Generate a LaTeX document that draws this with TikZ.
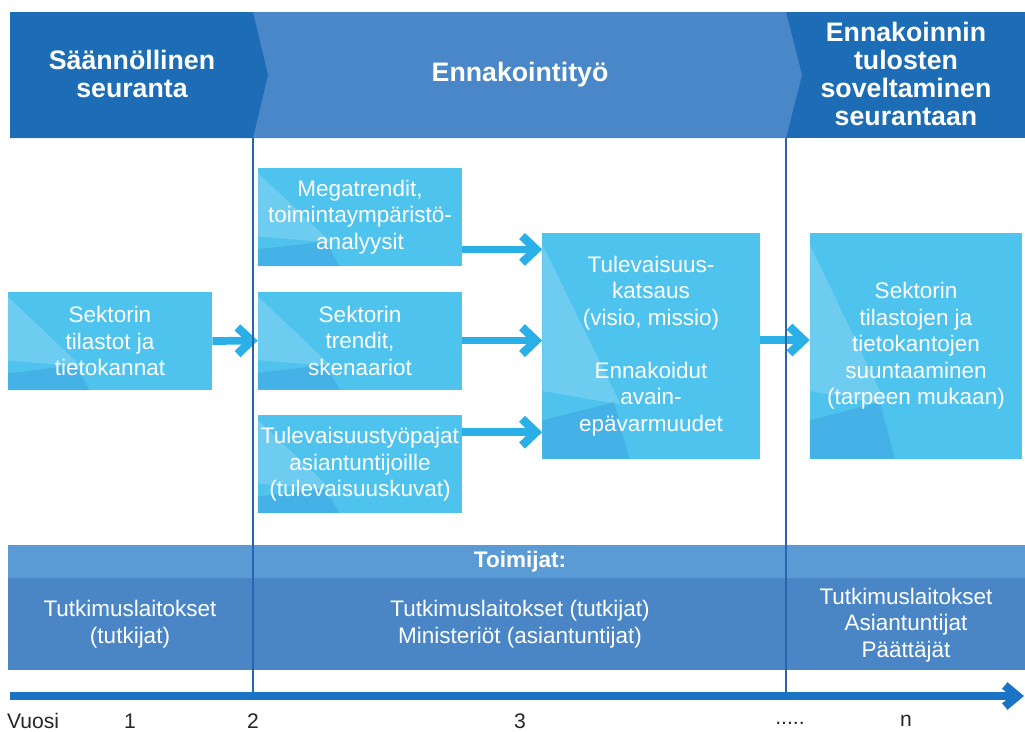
\documentclass[tikz,border=0pt]{standalone}
\usepackage{fontspec}
\setmainfont{Liberation Sans}
\usetikzlibrary{positioning, arrows.meta, calc}
\definecolor{headdark}{HTML}{1C6DB6}
\definecolor{headmid}{HTML}{4A87C8}
\definecolor{boxblue}{HTML}{4EC3EE}
\definecolor{facetlight}{HTML}{6ECCF1}
\definecolor{facetdark}{HTML}{44B2E6}
\definecolor{flowblue}{HTML}{2AB0E6}
\definecolor{bandtop}{HTML}{5B9BD5}
\definecolor{bandblue}{HTML}{4A86C6}
\definecolor{lineblue}{HTML}{2A63AE}
\definecolor{axisblue}{HTML}{1B74C3}
\tikzset{
headtext/.style={text=white, align=center, font=\fontsize{19}{20}\selectfont\bfseries}, % titles in the top band
boxtext/.style={text=white, align=center, font=\fontsize{16}{18.8}\selectfont}, % white body text
facets/.style={path picture={ % lighter and darker wedges at the left side of a box
    \path (path picture bounding box.south west) coordinate (fsw)
          (path picture bounding box.north east) coordinate (fne);
    \fill[facetlight] let \p1=(fsw), \p2=(fne) in
        (\x1,{\y2-0.05*(\y2-\y1)}) -- ({\x1+0.36*(\x2-\x1)},{\y2-0.76*(\y2-\y1)}) -- (\x1,{\y2-0.70*(\y2-\y1)}) -- cycle;
    \fill[facetdark] let \p1=(fsw), \p2=(fne) in
        (\x1,{\y1+0.17*(\y2-\y1)}) -- ({\x1+0.33*(\x2-\x1)},{\y1+0.25*(\y2-\y1)}) -- ({\x1+0.4*(\x2-\x1)},\y1) -- (\x1,\y1) -- cycle;
}},
infobox/.style={boxtext, fill=boxblue, facets, inner sep=1pt, minimum width=5.1cm, minimum height=2.45cm},
flow/.style={draw=flowblue, line width=5.5pt, -{Straight Barb[length=10pt,width=19pt,line width=6pt]}}, % thick chevron arrows
divider/.style={draw=lineblue, line width=1.3pt},
yeartext/.style={text=black!85, font=\fontsize{15}{17}\selectfont},
}
\begin{document}
\begin{tikzpicture}[x=0.025cm, y=-0.025cm]
\useasboundingbox (0,0) rectangle (1025,731);
% top band
\fill[headdark] (786,12) rectangle (1025,138);
\fill[headmid] (253,12) -- (786,12) -- (802,75) -- (786,138) -- (253,138) -- cycle;
\fill[headdark] (10,12) -- (253,12) -- (268,75) -- (253,138) -- (10,138) -- cycle;
\node[headtext] (hSeuranta) at (132,74) {Säännöllinen\\seuranta};
\node[headtext] (hTyo) at (520,75) {Ennakointityö};
\node[headtext] (hSoveltaminen) at (906,74) {Ennakoinnin\\tulosten\\soveltaminen\\seurantaan};

% boxes
\node[infobox] (stats) at (110,341) {Sektorin\\tilastot ja\\tietokannat};
\node[infobox] (mega) at (360,217) {Megatrendit,\\toimintaympäristö-\\analyysit};
\node[infobox, below=0.625cm of mega] (trend) {Sektorin\\trendit,\\skenaariot};
\node[infobox, below=0.625cm of trend] (work) {Tulevaisuustyöpajat\\asiantuntijoille\\(tulevaisuuskuvat)};
\node[infobox, minimum width=5.425cm, minimum height=5.625cm] (view) at (651,346)
    {Tulevaisuus-\\katsaus\\(visio, missio)\\[18.8pt]Ennakoidut\\avain-\\epävarmuudet};
\node[infobox, minimum width=5.3cm, minimum height=5.625cm] (apply) at (916,346)
    {Sektorin\\tilastojen ja\\tietokantojen\\suuntaaminen\\(tarpeen mukaan)};

% arrows
\draw[flow] (stats.east) -- (trend.west);
\draw[flow] ([yshift=-0.81cm]mega.east) coordinate (megaOut) -- (megaOut -| view.west);
\draw[flow] (trend.east) -- (trend.east -| view.west);
\draw[flow] ([yshift=0.8cm]work.east) coordinate (workOut) -- (workOut -| view.west);
\draw[flow] ([yshift=0.15cm]view.east) coordinate (viewOut) -- (viewOut -| apply.west);

% actors band
\fill[bandtop] (8,545) rectangle (1025,578);
\fill[bandblue] (8,578) rectangle (1025,670);
\node[boxtext, font=\fontsize{16}{18.8}\selectfont\bfseries] (toimijat) at (520,562) {Toimijat:};
\node[boxtext] (actLeft) at (130,624) {Tutkimuslaitokset\\(tutkijat)};
\node[boxtext] (actMid) at (520,624) {Tutkimuslaitokset (tutkijat)\\Ministeriöt (asiantuntijat)};
\node[boxtext] (actRight) at (906,625) {Tutkimuslaitokset\\Asiantuntijat\\Päättäjät};

% time line
\coordinate (axisStart) at (10,696);
\coordinate (axisEnd) at (1024,696);
\coordinate (cutA) at (253,138);
\coordinate (cutB) at (786,138);
\draw[divider] (cutA) -- (cutA |- axisStart);
\draw[divider] (cutB) -- (cutB |- axisStart);
\draw[draw=axisblue, line width=6pt, -{Straight Barb[length=9pt,width=15pt,line width=6pt]}] (axisStart) -- (axisEnd);

\node[yeartext] (vuosi) at (33,721) {Vuosi};
\node[yeartext] (y1) at (130,721) {1};
\node[yeartext] (y2) at (253,721) {2};
\node[yeartext] (y3) at (520,721) {3};
\node[yeartext] (yDots) at (790,723) {.....};
\node[yeartext] (yN) at (906,721) {n};
\end{tikzpicture}
\end{document}
